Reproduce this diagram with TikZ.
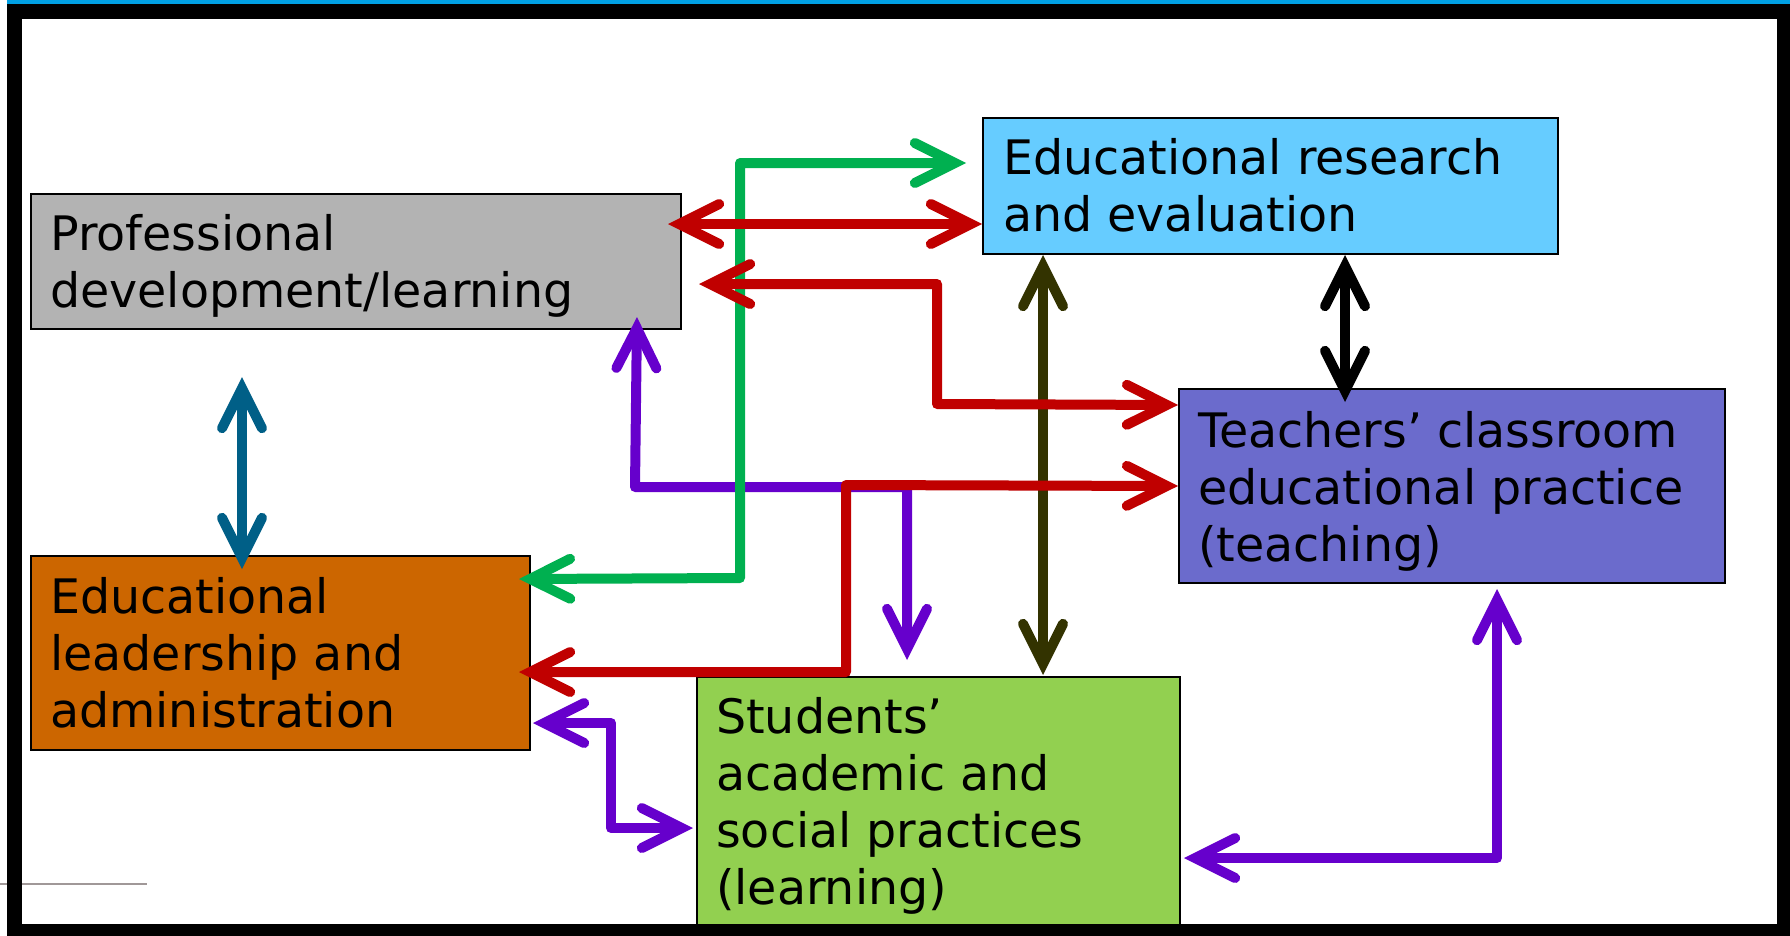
\documentclass[tikz,border=0pt]{standalone}
\usepackage{fontspec}
\setmainfont{DejaVu Sans}
\usetikzlibrary{arrows.meta,calc}

\definecolor{pdgray}{HTML}{B3B3B3}
\definecolor{erblue}{HTML}{66CCFF}
\definecolor{tcblue}{HTML}{6B6BCC}
\definecolor{elorange}{HTML}{CC6600}
\definecolor{sagreen}{HTML}{92D050}
\definecolor{lgreen}{HTML}{00B050}
\definecolor{lred}{HTML}{C00000}
\definecolor{lpurple}{HTML}{6600CC}
\definecolor{lolive}{HTML}{333300}
\definecolor{lteal}{HTML}{005F87}
\definecolor{topblue}{HTML}{00A0E4}
\definecolor{rulegray}{HTML}{A09898}

\tikzset{
  box/.style={draw=black, line width=2pt, anchor=north west, inner sep=0pt},
  boxtext/.style={anchor=base west, align=left, inner sep=0pt, font=\fontsize{47.5}{57}\selectfont},
  barb/.tip={Straight Barb[length=40pt,width=40pt,line cap=round,line join=miter]},
  link/.style={line width=10pt, line join=round, barb-barb},
}

\begin{document}
\begin{tikzpicture}[x=1pt,y=-1pt]
	\useasboundingbox (0,0) rectangle (1790,935);
	\fill[white] (0,0) rectangle (1790,935);
	\fill[topblue] (7,0) rectangle (1790,4);
	\draw[rulegray, line width=1.5pt] (0,884) -- (147,884);
	% boxes
	\node[box, fill=pdgray, minimum width=650pt, minimum height=135pt] (pd) at (30,193) {};
	\node[box, fill=erblue, minimum width=575pt, minimum height=136pt] (er) at (982,117) {};
	\node[box, fill=tcblue, minimum width=546pt, minimum height=194pt] (tc) at (1178,388) {};
	\node[box, fill=elorange, minimum width=499pt, minimum height=194pt] (el) at (30,555) {};
	\node[box, fill=sagreen, minimum width=483pt, minimum height=280pt] (sa) at (696,676) {};
	% texts (base = last line)
	\node[boxtext] (pdtext) at ($(pd.north west)+(20,114)$) {Professional\\development/learning};
	\node[boxtext] (ertext) at ($(er.north west)+(21,114)$) {Educational research\\and evaluation};
	\node[boxtext] (tctext) at ($(tc.north west)+(20,173)$) {Teachers’ classroom\\educational practice\\(teaching)};
	\node[boxtext] (eltext) at ($(el.north west)+(20,172)$) {Educational\\leadership and\\administration};
	\node[boxtext] (satext) at ($(sa.north west)+(20,228)$) {Students’\\academic and\\social practices\\(learning)};
	% links
	\draw[link, lteal] ($(pd.south west)+(212,47)$) -- ($(el.north west)+(212,14)$);
	\draw[link, black] ($(er.south west)+(363,0)$) -- ($(tc.north west)+(167,14)$);
	\draw[link, lolive] ($(er.south west)+(61,0)$) -- ($(sa.north west)+(347,-1)$);
	\draw[link, lpurple] ($(pd.south east)+(-45,-13)$) -- (635,487) -| ($(sa.north west)+(211,-16)$);
	\draw[link, lgreen] ($(er.west)+(-16,-23)$) -| (740,578) -- ($(el.east)+(-12,-74)$);
	\draw[link, lred] ($(pd.east)+(-14,-37.5)$) -- ($(er.west)+(0,38)$);
	\draw[link, lred] ($(pd.east)+(17,22.5)$) -| (937,404) -- ($(tc.west)+(0,-81)$);
	\draw[link, lred] ($(el.east)+(-12,19)$) -| (846,485) -- (tc.west);
	\draw[link, lpurple] ($(el.east)+(2,70)$) -| (611,828) -- ($(sa.north west)+(-3,152)$);
	\draw[link, lpurple] ($(sa.north east)+(3,182)$) -| ($(tc.south west)+(319,5)$);
	% frame
	\draw[line width=15pt] (14.5,11) rectangle (1784.5,931);
\end{tikzpicture}
\end{document}
